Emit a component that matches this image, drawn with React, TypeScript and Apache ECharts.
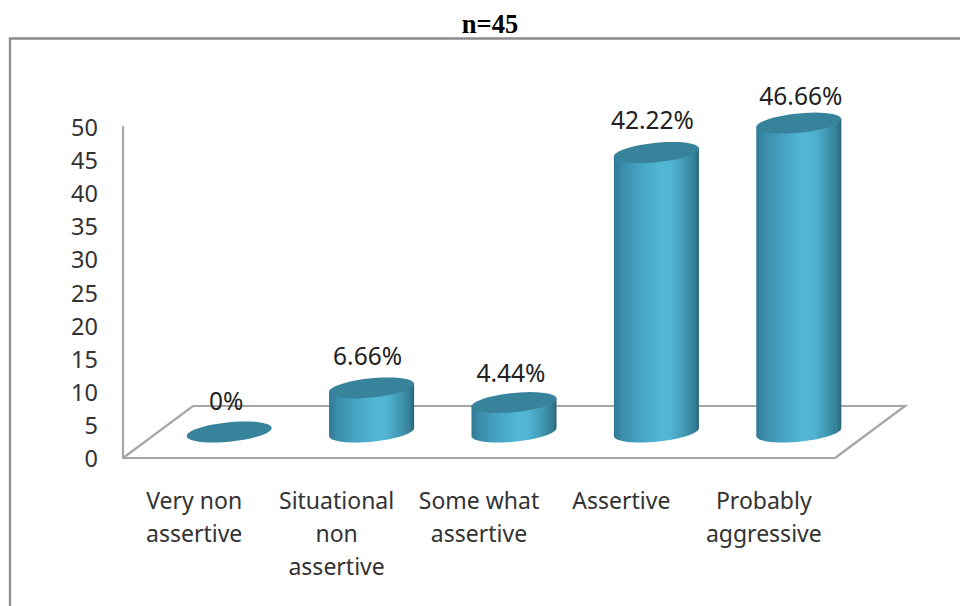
import React, { useEffect, useRef } from "react";
import * as echarts from "echarts";

const titleText = "n=45";
const categories = [
  "Very non\nassertive",
  "Situational\nnon\nassertive",
  "Some what\nassertive",
  "Assertive",
  "Probably\naggressive",
];
const values = [0, 6.66, 4.44, 42.22, 46.66];
const axisMax = 50;
const axisStep = 5;

const FONT = "'Noto Sans', sans-serif";
const GREY = "#a6a6a6";
const DEPTH_X = 70;
const DEPTH_Y = 52;
const labelNudgeX = [-3, -4, -3, -4, 2];
const labelNudgeY = [-32, -32, -30, -33, -28];

function ellipsePoints(cx: number, cy: number, a: number, b: number, k: number, from: number, to: number) {
  const pts: number[][] = [];
  const n = 48;
  for (let i = 0; i <= n; i++) {
    const t = from + ((to - from) * i) / n;
    pts.push([cx + a * Math.cos(t), cy - b * Math.sin(t) - k * Math.cos(t)]);
  }
  return pts;
}

export default function App() {
  const ref = useRef<HTMLDivElement>(null);
  useEffect(() => {
    const chart = echarts.init(ref.current!, undefined, { renderer: "svg" });
    const bodyFill = new echarts.graphic.LinearGradient(0, 0, 1, 0, [
      { offset: 0, color: "#2f7a94" },
      { offset: 0.1, color: "#3b8dab" },
      { offset: 0.3, color: "#45a3c1" },
      { offset: 0.55, color: "#52b7d5" },
      { offset: 0.68, color: "#50b3d1" },
      { offset: 0.85, color: "#3f94ae" },
      { offset: 0.95, color: "#347f97" },
      { offset: 1, color: "#2a6275" },
    ]);
    chart.setOption({
      animation: false,
      backgroundColor: "#fff",
      title: {
        text: titleText,
        left: 485,
        top: 5,
        textAlign: "center",
        textStyle: { fontFamily: "'Liberation Serif', serif", fontWeight: "bold", fontSize: 26.5, color: "#000" },
      },
      graphic: [
        {
          type: "polyline",
          shape: { points: [[960, 38.5], [10, 38.5], [10, 606]] },
          style: { stroke: "#8c8c8c", lineWidth: 2.3, fill: "none" },
        },
      ],
      grid: { left: 123, right: 125, top: 127, bottom: 148 },
      xAxis: {
        type: "category",
        data: categories,
        boundaryGap: true,
        axisLine: { show: true, lineStyle: { color: GREY, width: 2.2 } },
        axisTick: { show: false },
        axisLabel: {
          interval: 0,
          margin: 25,
          lineHeight: 33,
          fontSize: 23,
          fontFamily: FONT,
          color: "#333",
        },
      },
      yAxis: {
        type: "value",
        min: 0,
        max: axisMax,
        interval: axisStep,
        axisLine: { show: true, lineStyle: { color: GREY, width: 2.2 } },
        axisTick: { show: false },
        splitLine: { show: false },
        axisLabel: { margin: 25, fontSize: 23.5, fontFamily: FONT, color: "#333", padding: [4, 0, 0, 0] },
      },
      series: [
        {
          type: "custom",
          silent: true,
          clip: false,
          z: 1,
          data: [[0, 0]],
          renderItem: (params: any) => {
            const c = params.coordSys;
            const y0 = c.y + c.height;
            const x1 = c.x + c.width;
            return {
              type: "polyline",
              shape: {
                points: [
                  [c.x, y0],
                  [c.x + DEPTH_X, y0 - DEPTH_Y],
                  [x1 + DEPTH_X, y0 - DEPTH_Y],
                  [x1, y0],
                ],
              },
              style: { stroke: GREY, lineWidth: 2.2, fill: "none" },
            };
          },
        },
        {
          type: "custom",
          silent: true,
          clip: false,
          z: 3,
          data: values.map((v, i) => [i, v]),
          encode: { x: 0, y: 1 },
          renderItem: (params: any, api: any) => {
            const i = api.value(0);
            const v = api.value(1);
            const top = api.coord([i, v]);
            const base = api.coord([i, 0]);
            const a = api.size([1, 0])[0] * 0.2985;
            const cx = top[0] + DEPTH_X / 2;
            const topY = top[1] - DEPTH_Y / 2;
            const baseY = base[1] - DEPTH_Y / 2;
            const b = 9.7;
            const k = 4;
            const rightEdge = ellipsePoints(cx, topY, a, b, k, 0, 0);
            const lower = ellipsePoints(cx, baseY, a, b, k, Math.PI * 2, Math.PI);
            const leftEdge = ellipsePoints(cx, topY, a, b, k, Math.PI, Math.PI);
            const children: any[] = [];
            if (v > 0) {
              children.push({
                type: "polygon",
                shape: { points: [rightEdge[0], ...lower, leftEdge[0]] },
                style: { fill: bodyFill },
              });
            }
            children.push({
              type: "polygon",
              shape: { points: ellipsePoints(cx, topY, a, b, k, 0, Math.PI * 2) },
              style: { fill: "#37839b" },
            });
            children.push({
              type: "text",
              style: {
                text: `${v}%`,
                x: cx + labelNudgeX[i],
                y: topY + labelNudgeY[i],
                align: "center",
                verticalAlign: "middle",
                font: `24.5px ${FONT}`,
                fill: "#222",
              },
            });
            return { type: "group", children };
          },
        },
      ],
    });
    return () => chart.dispose();
  }, []);
  return <div ref={ref} style={{ position: "fixed", left: 0, top: 0, width: 960, height: 606 }} />;
}
